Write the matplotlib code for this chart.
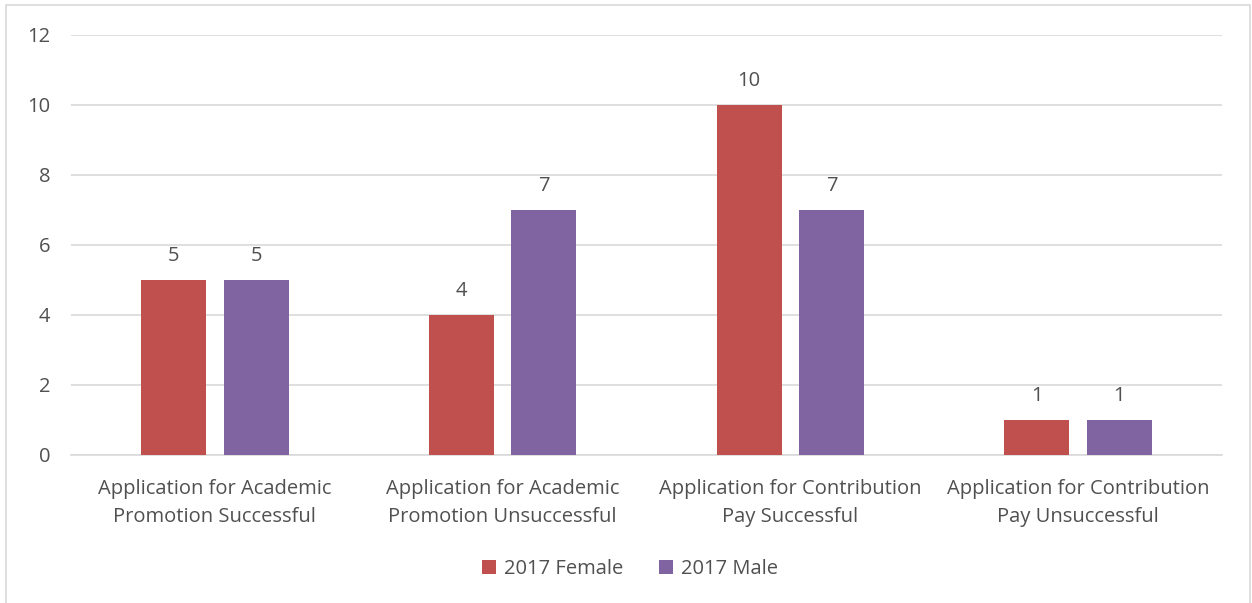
import matplotlib.pyplot as plt
from matplotlib.patches import Rectangle
import numpy as np

# Datos
categories = ['Application for Academic\nPromotion Successful',
              'Application for Academic\nPromotion Unsuccessful',
              'Application for Contribution\nPay Successful',
              'Application for Contribution\nPay Unsuccessful']
female = [5, 4, 10, 1]
male = [5, 7, 7, 1]
series_names = ['2017 Female', '2017 Male']
colors = ['#C0504D', '#8064A2']
yticks = [0, 2, 4, 6, 8, 10, 12]

plt.rcParams['font.family'] = ['Open Sans', 'DejaVu Sans']
text_color = '#505050'
fs = 14.5

fig = plt.figure(figsize=(12.52, 6.03), dpi=100)
ax = fig.add_axes([71 / 1252, 148 / 603, 1151 / 1252, 420 / 603])

# Borde exterior del gráfico
fig.patches.append(Rectangle((6 / 1252, -0.01), 1244 / 1252, 598 / 603 + 0.01,
                             transform=fig.transFigure, fill=False,
                             edgecolor='#D9D9D9', linewidth=1.2))

x = np.arange(len(categories))
width = 0.226
offset = 0.143

b1 = ax.bar(x - offset, female, width, color=colors[0], label=series_names[0], zorder=3)
b2 = ax.bar(x + offset, male, width, color=colors[1], label=series_names[1], zorder=3)

for bars in (b1, b2):
    for rect in bars:
        h = rect.get_height()
        ax.text(rect.get_x() + rect.get_width() / 2, h + 0.4, f'{h:g}',
                ha='center', va='bottom', fontsize=fs, color=text_color)

ax.set_xlim(-0.5, len(categories) - 0.5)
ax.set_ylim(0, 12)
ax.set_yticks(yticks)
ax.set_xticks(x)
ax.set_xticklabels(categories, fontsize=fs, color=text_color, linespacing=1.58)
ax.tick_params(axis='y', labelsize=fs, labelcolor=text_color, length=0, pad=15)
ax.tick_params(axis='x', length=0, pad=17)
ax.grid(axis='y', color='#D9D9D9', linewidth=1.2, zorder=0)
for s in ['top', 'right', 'left']:
    ax.spines[s].set_visible(False)
ax.spines['bottom'].set_color('#D9D9D9')
ax.spines['bottom'].set_linewidth(1.2)

ax.legend(loc='center', bbox_to_anchor=(630 / 1252, 34 / 603), bbox_transform=fig.transFigure,
          ncol=2, frameon=False, fontsize=fs, labelcolor=text_color,
          handlelength=0.7, handleheight=0.7, handletextpad=0.4, columnspacing=1.8)

plt.savefig('out.png', dpi=100)
